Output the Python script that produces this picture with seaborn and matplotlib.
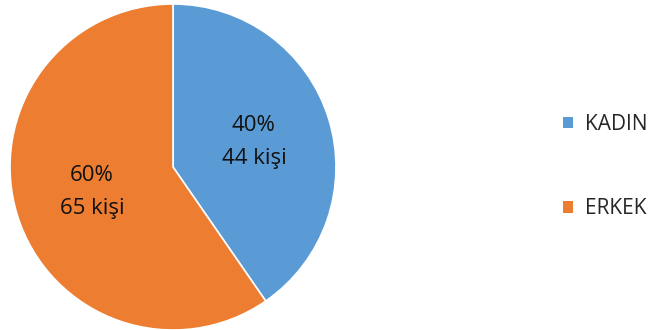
import matplotlib.pyplot as plt
import seaborn as sns
from matplotlib.patches import Patch

categories = ['KADIN', 'ERKEK']
counts = [44, 65]
colors = ['#5B9BD5', '#ED7D31']

sns.set_theme(style='white')
plt.rcParams['font.family'] = ['Open Sans', 'DejaVu Sans']

fig = plt.figure(figsize=(6.57, 3.30), dpi=100)
ax = fig.add_axes([10 / 657, 0.0, 326 / 657, 326 / 330])

total = sum(counts)

def make_label(pct):
    n = int(round(pct * total / 100))
    return f"{pct:.0f}%\n{n} kişi"

wedges, texts, autotexts = ax.pie(
    counts, colors=sns.color_palette(colors), startangle=90, counterclock=False,
    autopct=make_label, pctdistance=0.52,
    wedgeprops=dict(edgecolor='white', linewidth=1.2),
    textprops=dict(fontsize=16, color='#111111', linespacing=1.75))
ax.set_xlim(-1, 1)
ax.set_ylim(-1, 1)
ax.set_aspect('equal')

handles = [Patch(facecolor=c, edgecolor='none') for c in colors]
fig.legend(handles, categories, loc='center left', bbox_to_anchor=(563 / 657, 0.495),
           frameon=False, fontsize=15, handlelength=0.5, handleheight=0.5,
           handletextpad=0.55, labelspacing=3.05, borderpad=0, borderaxespad=0)

fig.savefig('out.png', dpi=100)
